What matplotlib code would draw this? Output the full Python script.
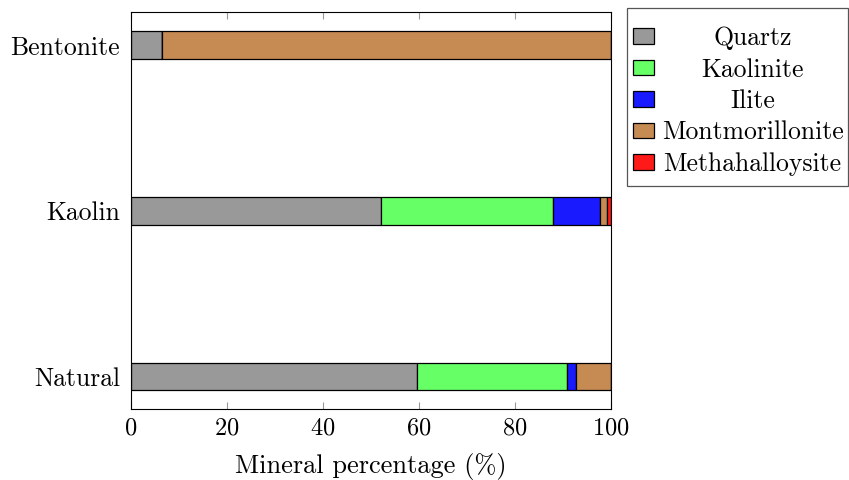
import numpy as np
import matplotlib
matplotlib.use('Agg')
import matplotlib.pyplot as plt
from matplotlib.patches import Rectangle

plt.rcParams['font.family'] = 'serif'
plt.rcParams['font.serif'] = ['cmr10', 'DejaVu Serif']
plt.rcParams['mathtext.fontset'] = 'cm'
plt.rcParams['axes.formatter.use_mathtext'] = True

samples = ['Natural', 'Kaolin', 'Bentonite']
minerals = ['Quartz', 'Kaolinite', 'Ilite', 'Montmorillonite', 'Methahalloysite']
quartz = [59.6, 52.0, 6.4]
kaolinite = [31.3, 36.0, 0.0]
ilite = [1.9, 9.8, 0.0]
montmorillonite = [7.2, 1.4, 93.6]
methahalloysite = [0.0, 0.8, 0.0]
colors = ['#999999', '#66ff66', '#1a1aff', '#c68b53', '#ff1a1a']

fig = plt.figure(figsize=(8.49, 4.80), dpi=100)
ax = fig.add_axes([131 / 849, 1 - 409 / 480, 480 / 849, 397 / 480])

y = np.arange(len(samples))
left = np.zeros(len(samples))
for name, vals, c in zip(minerals, [quartz, kaolinite, ilite, montmorillonite, methahalloysite], colors):
    vals = np.array(vals)
    ax.barh(y, vals, left=left, height=0.165, color=c, edgecolor='black',
            linewidth=0.9, label=name)
    left += vals

ax.set_xlim(0, 100)
ax.set_ylim(-0.195, 2.2)
ax.set_yticks(y)
ax.set_yticklabels(samples, fontsize=18.5)
ax.set_xticks([0, 20, 40, 60, 80, 100])
ax.tick_params(axis='x', direction='in', top=True, length=5, color='#999999',
               labelsize=17.5, pad=6)
ax.tick_params(axis='y', length=0, pad=8)
ax.set_xlabel('Mineral percentage (%)', fontsize=19, labelpad=10)
for s in ax.spines.values():
    s.set_linewidth(0.8)

handles, labels = ax.get_legend_handles_labels()
leg = fig.legend(handles, labels, loc='upper left',
                 bbox_to_anchor=(627 / 849, 1 - 20 / 480), bbox_transform=fig.transFigure,
                 fontsize=18.5, frameon=False,
                 handlelength=0.8, handleheight=0.55, handletextpad=0.3,
                 borderpad=0.25, labelspacing=0.3, borderaxespad=0)
# legend frame drawn separately so it can be taller than the entries
fig.patches.append(Rectangle((627 / 849, 1 - 186 / 480), 221 / 849, 178 / 480,
                             transform=fig.transFigure, fill=False,
                             ec='#555555', lw=0.9))

# center the legend entries in their column, like pgfplots does
fig.canvas.draw()
r = fig.canvas.get_renderer()
widths = [t.get_window_extent(r).width for t in leg.get_texts()]
wmax = max(widths)
for t, w in zip(leg.get_texts(), widths):
    t.set_position(((wmax - w) / 2, 0))

fig.savefig('out.png', dpi=100)
